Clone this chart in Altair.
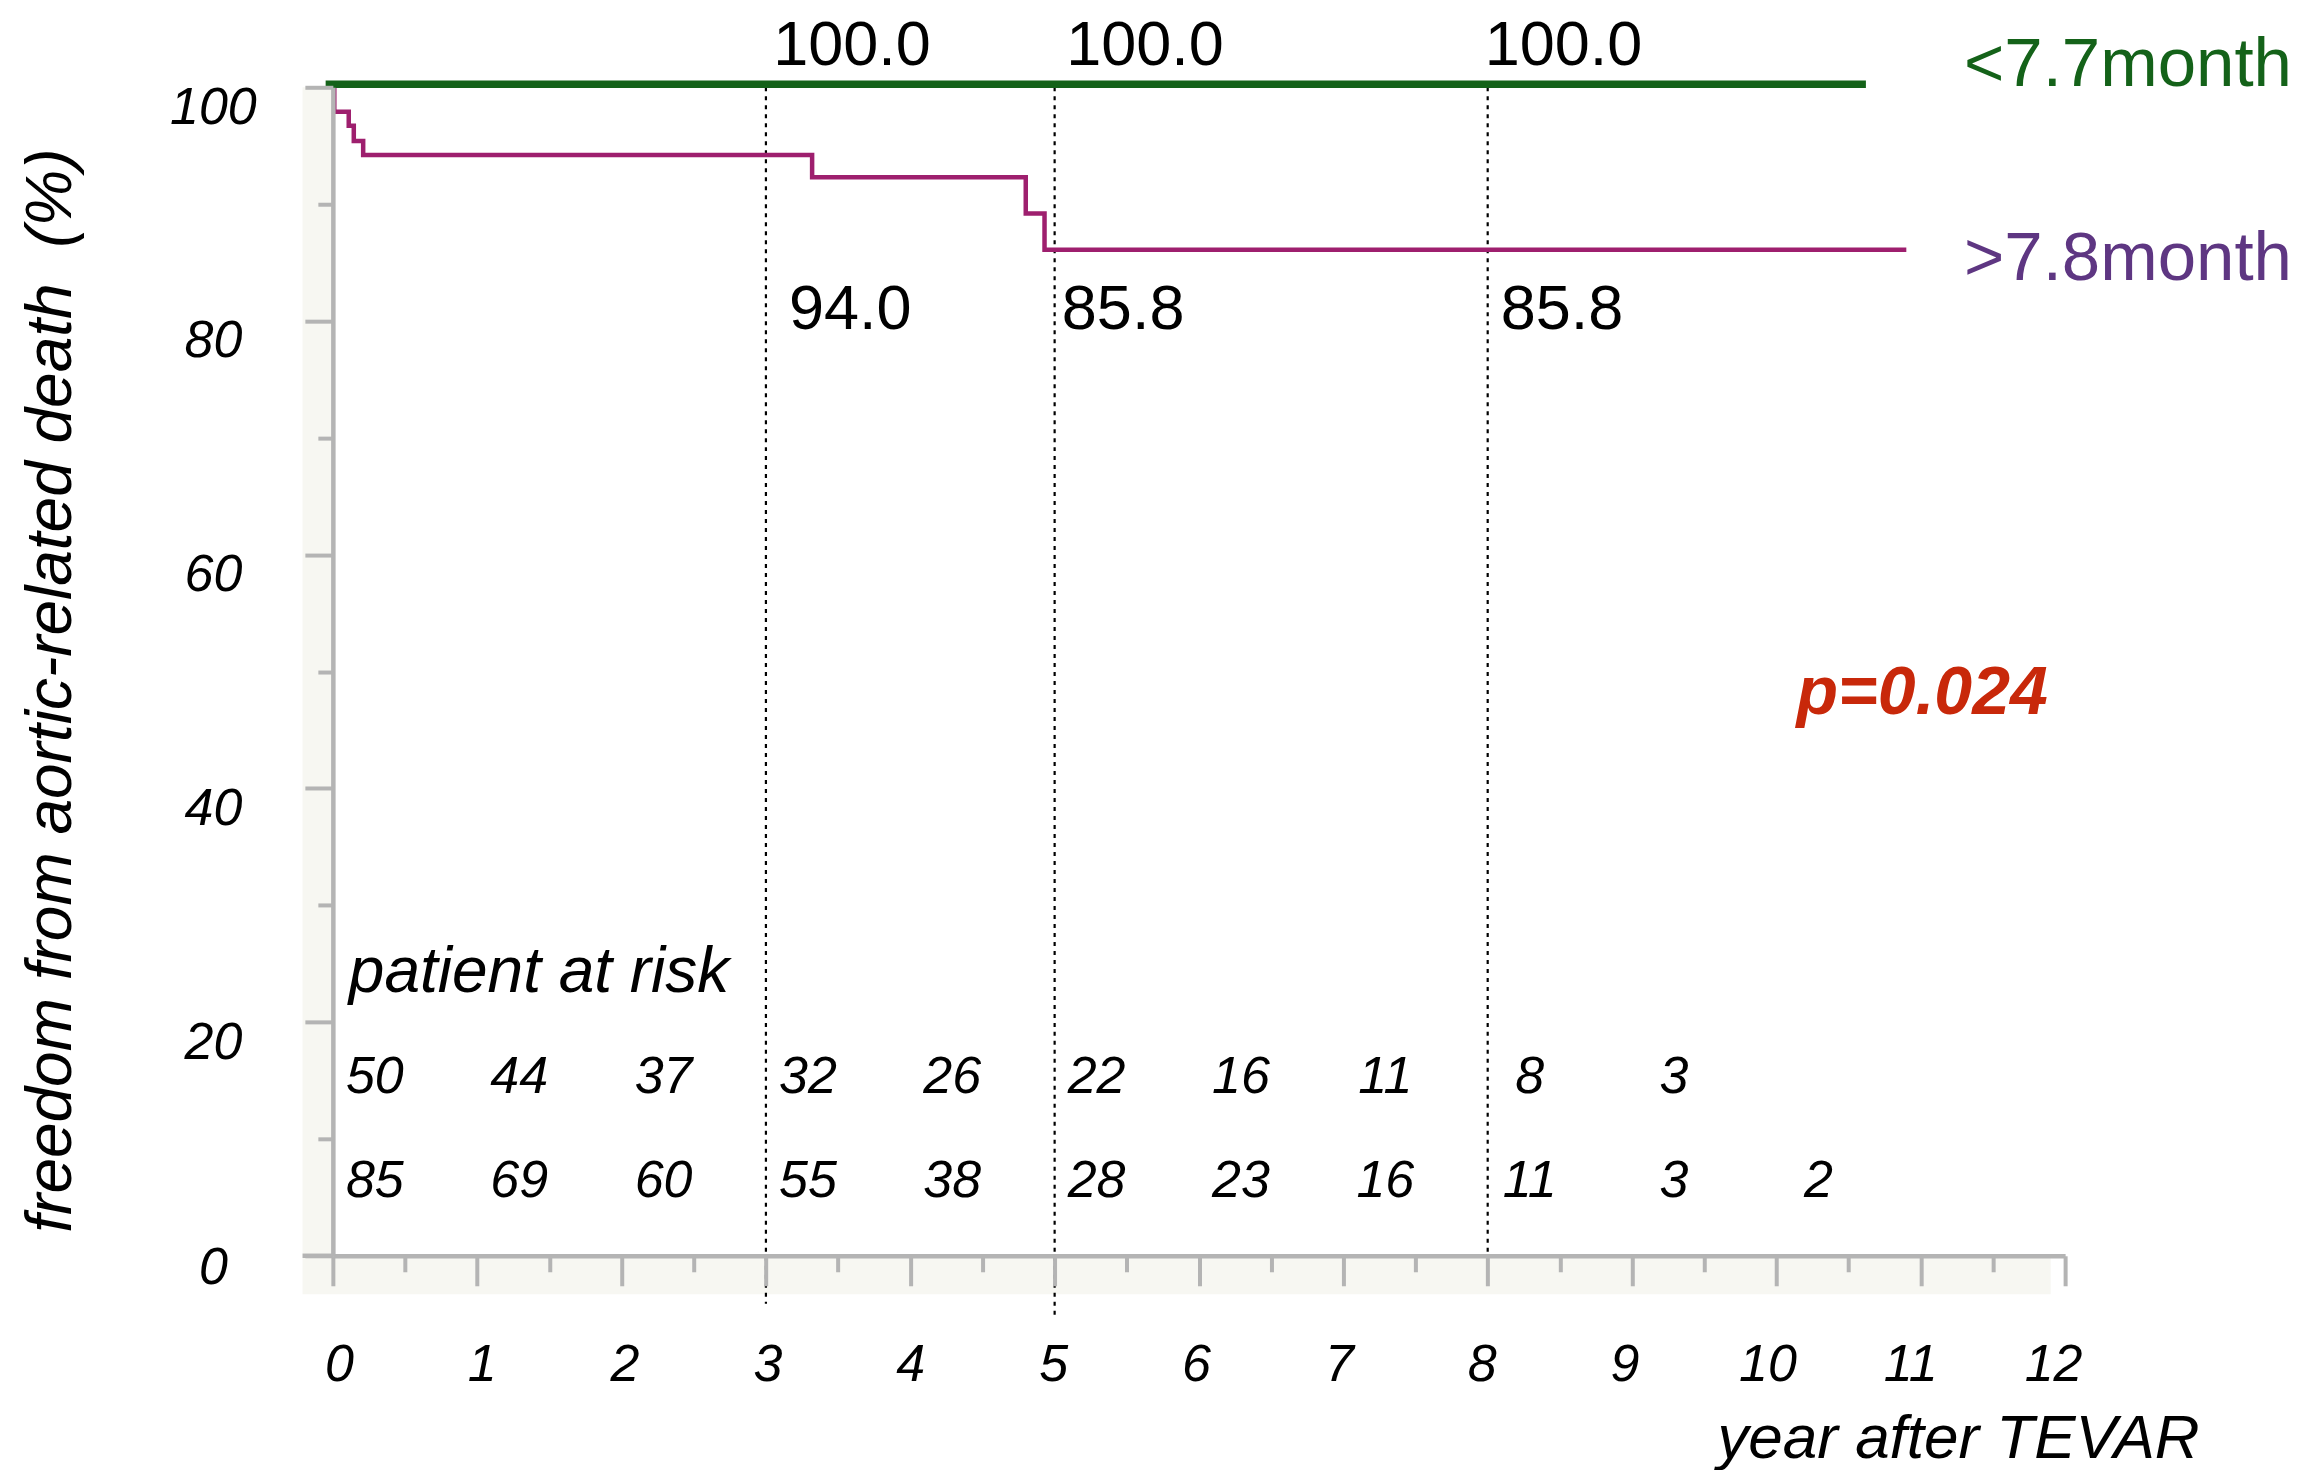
import altair as alt
import pandas as pd

# ---------------- data ----------------
green_t = [-0.05, 10.62]
green_s = [100.0, 100.0]

purple_t = [0.0, 0.01, 0.11, 0.145, 0.21, 3.32, 4.80, 4.93, 10.90]
purple_s = [100.0, 97.9, 96.7, 95.4, 94.2, 92.3, 89.2, 86.1, 86.1]

mark_years = [3, 5, 8]
dash_bottom = [-4.1, -5.3, -1.8]
green_at = ["100.0", "100.0", "100.0"]
green_at_t = [3.05, 5.08, 7.98]
purple_at = ["94.0", "85.8", "85.8"]
purple_at_t = [3.16, 5.05, 8.09]

risk_years = list(range(11))
risk_green = [50, 44, 37, 32, 26, 22, 16, 11, 8, 3, None]
risk_purple = [85, 69, 60, 55, 38, 28, 23, 16, 11, 3, 2]

legend_labels = ["<7.7month", ">7.8month"]
p_label = "p=0.024"
risk_title = "patient at risk"

x_ticks = [i * 0.5 for i in range(25)]
y_ticks = list(range(0, 101, 10))

FONT = "Liberation Sans"
GREEN = "#146219"
PURPLE = "#9e1f6e"
PURPLE_TXT = "#5e3682"
RED = "#c8280a"
GRAY = "#b4b4b4"
BAND = "#f7f7f2"

W, H = 1733, 1169

xs = alt.Scale(domain=[0, 12], nice=False, zero=False)
ys = alt.Scale(domain=[0, 100], nice=False, zero=False)

green_df = pd.DataFrame({"t": green_t, "s": green_s})
purple_df = pd.DataFrame({"t": purple_t, "s": purple_s})
dash_df = pd.DataFrame({"t": mark_years, "b": dash_bottom, "top": [100.0] * 3})
top_df = pd.DataFrame({"t": green_at_t, "lab": green_at, "y": [103.5] * 3})
mid_df = pd.DataFrame({"t": purple_at_t, "lab": purple_at, "y": [80.9] * 3})
rows = []
for t, g, p in zip(risk_years, risk_green, risk_purple):
    if g is not None:
        rows.append({"t": t, "n": str(g), "ry": 15.3})
    if p is not None:
        rows.append({"t": t, "n": str(p), "ry": 6.4})
risk_df = pd.DataFrame(rows)

band_df = pd.DataFrame({"t": [-0.21, -0.21], "x2": [0.0, 11.9], "s": [0.0, -3.3], "y2": [100.0, 0.0]})
ext_df = pd.DataFrame({"t": [-0.21], "x2": [0.0], "s": [0.0]})
legend_df = pd.DataFrame({"lab": legend_labels, "t": [11.3, 11.3], "s": [101.9, 85.3], "c": ["g", "p"]})
p_df = pd.DataFrame({"lab": [p_label], "t": [11.88], "s": [48.1]})
par_df = pd.DataFrame({"lab": [risk_title], "t": [0.0], "s": [24.2]})

x_axis = alt.Axis(
    values=x_ticks,
    labelExpr="datum.value % 1 == 0 ? format(datum.value, 'd') : ''",
    labelOverlap=False, labelFlush=False,
    labelFont=FONT, labelFontSize=52, labelFontStyle="italic", labelColor="black",
    labelBaseline="middle", labelPadding=79,
    labelOffset={"expr": "6 - 1.5 * datum.value"},
    tickSize={"condition": {"test": "datum.value % 1 == 0", "value": 30}, "value": 16},
    tickColor=GRAY, tickWidth=4, domainColor=GRAY, domainWidth=4.5,
    grid=False, zindex=1,
    title="year after TEVAR", titleFont=FONT, titleFontSize=62, titleFontStyle="italic",
    titleFontWeight="normal", titleColor="black", titleAlign="right", titleBaseline="middle",
    titleX=1867, titleY=183, titleAngle=0,
)
y_axis = alt.Axis(
    values=y_ticks,
    labelExpr="datum.value % 20 == 0 ? format(datum.value, 'd') : ''",
    labelOverlap=False, labelFlush=False,
    labelFont=FONT, labelFontSize=52, labelFontStyle="italic", labelColor="black",
    labelAlign="center", labelPadding=92,
    labelOffset={"expr": "datum.value == 0 ? 12 : 20"},
    tickSize={"condition": {"test": "datum.value % 20 == 0", "value": 28}, "value": 15},
    tickColor=GRAY, tickWidth=4, domainColor=GRAY, domainWidth=4.5,
    grid=False, zindex=1,
    title="freedom from aortic-related death\u00a0 (%)", titleFont=FONT, titleFontSize=64,
    titleFontStyle="italic", titleFontWeight="normal", titleColor="black",
    titleAlign="center", titleBaseline="middle", titleX=-281, titleY=603, titleAngle=-90,
)


def X(f="t"):
    return alt.X(f, type="quantitative", scale=xs, axis=x_axis)


def Y(f="s"):
    return alt.Y(f, type="quantitative", scale=ys, axis=y_axis)


bands = alt.Chart(band_df).mark_rect(color=BAND).encode(
    x=X(), x2="x2:Q", y=Y(), y2="y2:Q")
axis_ext = alt.Chart(ext_df).mark_rule(color=GRAY, strokeWidth=4.5).encode(
    x=X(), x2="x2:Q", y=Y())

dashes = alt.Chart(dash_df).mark_rule(color="black", strokeWidth=2.2, strokeDash=[4, 5]).encode(
    x=X(), y=Y("top"), y2="b:Q")

purple_line = alt.Chart(purple_df).mark_line(
    color=PURPLE, strokeWidth=4.5, interpolate="step-after").encode(x=X(), y=Y())
green_line = alt.Chart(green_df).mark_line(color=GREEN, strokeWidth=7.5, yOffset=-3).encode(
    x=X(), y=Y())

big = dict(font=FONT, fontSize=63, color="black")
top_txt = alt.Chart(top_df).mark_text(align="left", baseline="middle", **big).encode(
    x=X(), y=Y("y"), text="lab:N")
mid_txt = alt.Chart(mid_df).mark_text(align="left", baseline="middle", **big).encode(
    x=X(), y=Y("y"), text="lab:N")

legend_txt = alt.Chart(legend_df).mark_text(align="left", baseline="middle", font=FONT, fontSize=69).encode(
    x=X(), y=Y(), text="lab:N",
    color=alt.Color("c:N", scale=alt.Scale(domain=["g", "p"], range=[GREEN, PURPLE_TXT]), legend=None))

p_txt = alt.Chart(p_df).mark_text(align="right", baseline="middle", font=FONT, fontSize=68,
                                  fontStyle="italic", fontWeight="bold", color=RED).encode(
    x=X(), y=Y(), text="lab:N")

par_txt = alt.Chart(par_df).mark_text(align="left", baseline="middle", font=FONT, fontSize=64,
                                      fontStyle="italic", color="black", dx=16).encode(
    x=X(), y=Y(), text="lab:N")

risk_txt = alt.Chart(risk_df).mark_text(
    align="center", baseline="middle", font=FONT, fontSize=52, fontStyle="italic",
    color="black", dx=42).encode(x=X(), y=Y("ry"), text="n:N")

chart = alt.layer(
    bands, axis_ext, dashes, purple_line, green_line,
    top_txt, mid_txt, legend_txt, p_txt, par_txt, risk_txt,
).properties(
    width=W, height=H,
    autosize=alt.AutoSizeParams(type="none"),
    padding={"left": 325, "top": 79, "right": 250, "bottom": 214},
).configure(background="white").configure_view(stroke=None)

chart.save("out.html", embed_options={"renderer": "svg", "actions": False})
